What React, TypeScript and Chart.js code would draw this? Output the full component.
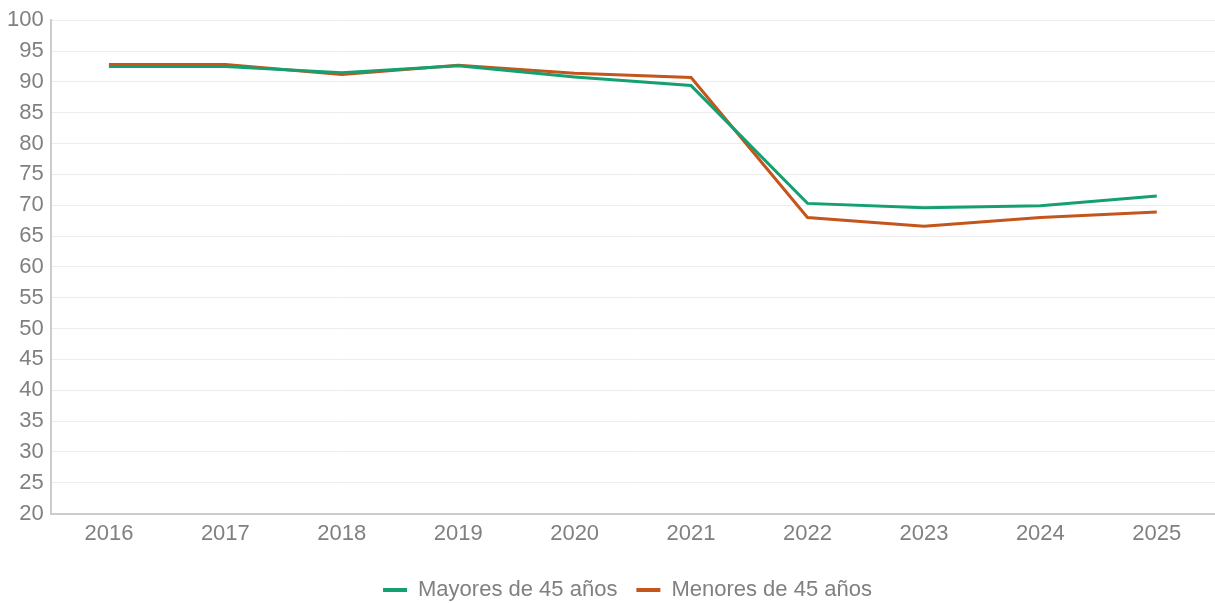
import React, { useEffect, useRef } from "react";
import { Chart, registerables } from "chart.js";

Chart.register(...registerables);

const years = ["2016", "2017", "2018", "2019", "2020", "2021", "2022", "2023", "2024", "2025"];
const mayores = [92.5, 92.5, 91.5, 92.6, 90.8, 89.4, 70.3, 69.6, 69.9, 71.5];
const menores = [92.8, 92.8, 91.2, 92.7, 91.4, 90.7, 68.0, 66.6, 68.0, 68.9];
const yMin = 20;
const yMax = 100;
const yStep = 5;

const GREEN = "#14a070";
const ORANGE = "#c4561d";
const FONT = "Arial, 'Liberation Sans', sans-serif";
const FONT_SIZE = 22;

const legendTweak = {
  id: "legendTweak",
  beforeInit(chart: any) {
    const legend = chart.legend;
    if (!legend) return;
    const origFit = legend.fit;
    legend.fit = function (this: any) {
      origFit.call(this);
      this.height = 43;
    };
  },
  afterLayout(chart: any) {
    const legend = chart.legend;
    if (!legend) return;
    legend.left += 20;
    legend.right += 20;
  },
};

export default function App() {
  const ref = useRef<HTMLCanvasElement | null>(null);

  useEffect(() => {
    document.body.style.margin = "0";
    if (!ref.current) return;
    const chart = new Chart(ref.current, {
      type: "line",
      data: {
        labels: years,
        datasets: [
          {
            label: "Mayores de 45 años",
            data: mayores,
            borderColor: GREEN,
            backgroundColor: GREEN,
            borderWidth: 3,
            pointRadius: 0,
            tension: 0,
          },
          {
            label: "Menores de 45 años",
            data: menores,
            borderColor: ORANGE,
            backgroundColor: ORANGE,
            borderWidth: 3,
            pointRadius: 0,
            tension: 0,
          },
        ],
      },
      plugins: [legendTweak],
      options: {
        animation: false,
        responsive: false,
        maintainAspectRatio: false,
        layout: { padding: { left: 0, right: 0, top: 5, bottom: 0 } },
        plugins: {
          tooltip: { enabled: false },
          legend: {
            position: "bottom",
            labels: {
              boxWidth: 24,
              boxHeight: 4,
              color: "#808080",
              font: { family: FONT, size: FONT_SIZE },
              padding: 19,
              generateLabels: (c: any) =>
                Chart.defaults.plugins.legend.labels.generateLabels(c).map((l: any) => ({
                  ...l,
                  lineWidth: 0,
                })),
            },
          },
        },
        scales: {
          x: {
            offset: true,
            grid: { display: false, drawTicks: false },
            border: { display: true, color: "#cccccc", width: 2 },
            ticks: { color: "#808080", font: { family: FONT, size: FONT_SIZE }, padding: 7 },
            afterFit: (axis: any) => {
              axis.height += 6;
            },
          },
          y: {
            min: yMin,
            max: yMax,
            grid: { color: "#ececec", lineWidth: 1, drawTicks: false },
            border: { display: true, color: "#cccccc", width: 2 },
            ticks: {
              stepSize: yStep,
              color: "#808080",
              font: { family: FONT, size: FONT_SIZE },
              padding: 7,
            },
          },
        },
      },
    });
    return () => chart.destroy();
  }, []);

  return <canvas ref={ref} width={1215} height={603} style={{ display: "block" }} />;
}
